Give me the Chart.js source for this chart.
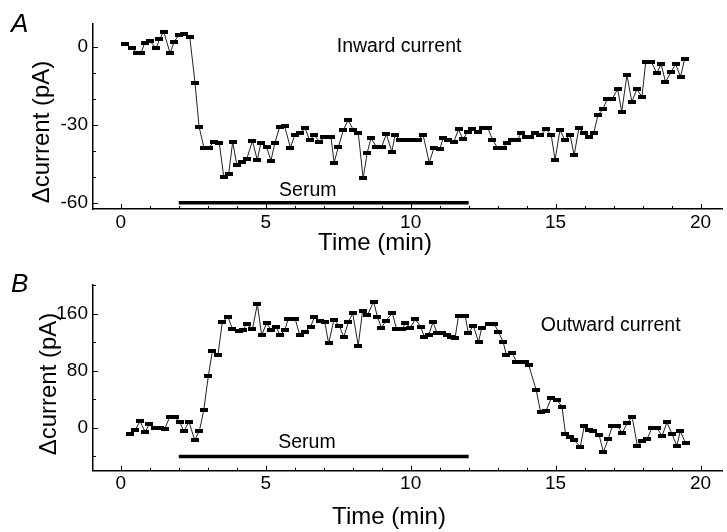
<!DOCTYPE html>
<html>
<head>
<meta charset="utf-8">
<script src="https://cdn.jsdelivr.net/npm/chart.js@4.4.1/dist/chart.umd.min.js"></script>
<style>
    html, body { margin: 0; padding: 0; background: #fff; }
    #wrap { position: relative; width: 727px; height: 532px; }
    .pane { position: absolute; left: 0; width: 727px; }
</style>
</head>
<body>
<div id="wrap">
    <div class="pane" style="top:0;height:260px"><canvas id="cA"></canvas></div>
    <div class="pane" style="top:260px;height:272px"><canvas id="cB"></canvas></div>
</div>
<script>
// A: inward current (pA) vs time (min)
const timeA = [0.15, 0.40, 0.55, 0.70, 0.82, 0.99, 1.22, 1.33, 1.48, 1.70, 1.84, 2.00, 2.18, 2.38, 2.56, 2.70,
    2.87, 3.04, 3.20, 3.40, 3.55, 3.72, 3.86, 4.00, 4.17, 4.35, 4.54, 4.71, 4.83, 5.03, 5.18, 5.31, 5.48, 5.65,
    5.85, 6.00, 6.17, 6.36, 6.51, 6.68, 6.85, 7.02, 7.25, 7.36, 7.50, 7.68, 7.84, 8.02, 8.19, 8.36, 8.50, 8.63,
    8.82, 9.00, 9.16, 9.35, 9.46, 9.64, 9.85, 10.05, 10.26, 10.43, 10.64, 10.80, 11.00, 11.12, 11.29, 11.49,
    11.65, 11.80, 11.97, 12.12, 12.31, 12.50, 12.66, 12.82, 12.99, 13.20, 13.33, 13.50, 13.68, 13.82, 13.98,
    14.13, 14.28, 14.47, 14.67, 14.85, 14.98, 15.15, 15.32, 15.50, 15.64, 15.80, 15.98, 16.14, 16.32, 16.46,
    16.63, 16.78, 16.95, 17.14, 17.28, 17.46, 17.63, 17.80, 17.98, 18.11, 18.30, 18.49, 18.64, 18.79, 18.99,
    19.14, 19.31, 19.45];
const currentA = [1.0, -0.6, -2.5, -2.5, 1.5, 2.3, -0.6, 2.8, 5.8, -2.5, 1.9, 4.5, 4.9, 3.6, -14, -30.8,
    -39, -39, -36.5, -37.2, -50, -49, -36.5, -45.5, -44.5, -43, -36.2, -43.6, -37, -38.7, -43.8, -37.2, -30.8, -30.5,
    -38.8, -34, -33.3, -31.4, -35.9, -34, -36.5, -34.9, -34.9, -44.6, -38.7, -32, -28.2, -32, -33, -50.6, -40.8, -35.2,
    -38.5, -38.5, -33.6, -40.4, -34, -35.9, -35.9, -35.9, -35.9, -34, -44.6, -39, -39.5, -35.2, -35.9, -36.5,
    -31.8, -35.6, -32.7, -31.8, -32.7, -31.4, -31.2, -35.7, -38.8, -38.8, -36.9, -35.9, -35.9, -33, -34.9,
    -34.7, -33, -34, -31.8, -34, -43.6, -32, -35.9, -34, -41.7, -31.4, -33, -34.9, -33, -26.3,
    -24.1, -20.1, -20.1, -16.3, -25, -10.9, -21.2, -16.4, -19.2, -5.8, -5.8, -10.2, -6.7, -13.5, -9.6,
    -6.7, -11.5, -4.8];

// B: outward current (pA) vs time (min)
const timeB = [0.32, 0.50, 0.66, 0.84, 0.98, 1.18, 1.35, 1.52, 1.68, 1.88, 2.04, 2.17, 2.35, 2.55, 2.71, 2.86,
    3.02, 3.16, 3.35, 3.50, 3.69, 3.85, 4.06, 4.20, 4.34, 4.54, 4.71, 4.86, 5.03, 5.18, 5.35, 5.49, 5.66, 5.77,
    6.02, 6.17, 6.36, 6.55, 6.68, 6.86, 7.03, 7.17, 7.35, 7.54, 7.69, 7.85, 8.00, 8.19, 8.34, 8.51, 8.72, 8.85,
    8.99, 9.14, 9.37, 9.51, 9.71, 9.82, 9.99, 10.16, 10.34, 10.47, 10.62, 10.77, 10.91, 11.08, 11.25, 11.39,
    11.53, 11.65, 11.88, 11.99, 12.16, 12.34, 12.45, 12.70, 12.88, 13.02, 13.19, 13.30, 13.50, 13.65, 13.79,
    13.93, 14.07, 14.33, 14.48, 14.67, 14.85, 15.05, 15.22, 15.34, 15.50, 15.64, 15.85, 15.99, 16.16, 16.29,
    16.50, 16.65, 16.82, 16.96, 17.13, 17.30, 17.47, 17.64, 17.82, 17.99, 18.16, 18.33, 18.50, 18.67, 18.84,
    19.01, 19.18, 19.30, 19.49];
const currentB = [-9.3, -3.2, 9.4, -5.6, 4.7, 0, -0.5, -1, 14.5, 14.5, 7.5, -4.6, 8.4, -17.3, -4.2, 24.5,
    72.8, 108, 102, 147.5, 155.5, 139, 136, 137, 145, 138.5, 173, 130, 146.5, 137, 141.8, 130, 137, 152,
    152, 130, 134.7, 141.8, 155, 149.7, 148.8, 118.5, 151, 143, 127, 148, 160.5, 115, 163.8, 158, 176.8, 155.8,
    140.3, 149.7, 160.5, 138.5, 138.5, 146.5, 140.3, 152, 141.8, 127.7, 130, 148, 132.5, 132.5, 130, 127.7,
    125.5, 156.8, 156.8, 132.5, 143, 120.7, 139.5, 146, 146, 134.7, 120.7, 102, 105, 92.6, 92.6,
    92.6, 88, 53, 22.5, 24, 41.3, 39, 29.5, -8, -12.6, -17.3, -26.7, 2.8, -3.2, -4.2,
    -10.2, -33.7, -15, 2.8, 2.8, -7, 6.2, 15.4, -25.3, -18.7, -15, 0, 0, -11.6, 7.6,
    -8, -25.3, -4.6, -21.9];

// serum application (min) and where its bar sits on each panel (pA)
const serumTime = [2, 12];
const serumLevelA = -60;
const serumLevelB = -40;

// tick labels
const xLabels = [0, 5, 10, 15, 20];
const yLabelsA = [-60, -30, 0];
const yLabelsB = [0, 80, 160];

const FONT = '"Liberation Sans", Arial, Helvetica, sans-serif';

// small flat black dash used as the marker
function dash(w, h) {
    const c = document.createElement('canvas');
    c.width = w; c.height = h;
    const g = c.getContext('2d');
    g.fillStyle = '#000';
    g.fillRect(0, 0, w, h);
    return c;
}
const marker = dash(8, 4);

// inward ticks, titles and notes
const deco = {
    id: 'deco',
    afterDraw(chart, args, o) {
        const ctx = chart.ctx, xs = chart.scales.x, ys = chart.scales.y, a = chart.chartArea;
        ctx.save();
        ctx.strokeStyle = '#000';
        ctx.lineWidth = 1;
        ctx.beginPath();
        xs.ticks.forEach(t => {
            const px = Math.round(xs.getPixelForValue(t.value)) + 0.5;
            const len = xLabels.includes(t.value) ? 5 : 3;
            ctx.moveTo(px, a.bottom);
            ctx.lineTo(px, a.bottom - len);
        });
        ys.ticks.forEach(t => {
            const py = Math.round(ys.getPixelForValue(t.value)) + 0.5;
            const len = o.yLabels.includes(t.value) ? 5 : 3;
            ctx.moveTo(a.left, py);
            ctx.lineTo(a.left + len, py);
        });
        ctx.stroke();

        ctx.fillStyle = '#000';
        // panel letter
        ctx.font = 'italic 26px ' + FONT;
        ctx.textAlign = 'left';
        ctx.textBaseline = 'alphabetic';
        ctx.fillText(o.letter, 11, 32);

        // x title
        ctx.font = '24px ' + FONT;
        ctx.textAlign = 'center';
        ctx.textBaseline = 'middle';
        ctx.fillText('Time (min)', o.xTitle[0], o.xTitle[1]);

        // y title
        ctx.save();
        ctx.translate(o.yTitle[0], o.yTitle[1]);
        ctx.rotate(-Math.PI / 2);
        ctx.fillText('\u0394current (pA)', 0, 0);
        ctx.restore();

        // notes placed in data units
        ctx.font = '19.5px ' + FONT;
        o.notes.forEach(n => {
            ctx.fillText(n.text, xs.getPixelForValue(n.x), ys.getPixelForValue(n.y));
        });
        ctx.restore();
    }
};

function panel(id, times, values, serumLevel, yMin, yMax, yStep, yLabels, xAxisH, topPad, o) {
    const pts = times.map((t, i) => ({ x: t, y: values[i] }));
    const serum = serumTime.map(t => ({ x: t, y: serumLevel }));
    return new Chart(document.getElementById(id), {
        type: 'line',
        data: {
            datasets: [
                { data: serum, borderColor: '#000', borderWidth: 3.5, pointRadius: 0, borderCapStyle: 'butt' },
                { data: pts, borderColor: '#222', borderWidth: 1, pointStyle: marker, pointRadius: 4,
                  pointBackgroundColor: '#000', tension: 0 }
            ]
        },
        options: {
            responsive: true, maintainAspectRatio: false, animation: false,
            layout: { padding: { top: topPad, left: 0, right: 0, bottom: 0 } },
            plugins: { legend: { display: false }, tooltip: { enabled: false }, deco: o },
            scales: {
                x: {
                    type: 'linear', min: -0.96, max: 20.74,
                    grid: { display: false, drawTicks: false },
                    border: { display: true, color: '#000', width: 1.5 },
                    ticks: {
                        stepSize: 1, includeBounds: false, autoSkip: false, maxRotation: 0, padding: 2,
                        color: '#000', font: { family: FONT, size: 19 },
                        callback: v => xLabels.includes(v) ? String(v) : ''
                    },
                    afterFit: s => { s.height = xAxisH; s.paddingLeft = 0; s.paddingRight = 0; }
                },
                y: {
                    min: yMin, max: yMax,
                    grid: { display: false, drawTicks: false },
                    border: { display: true, color: '#000', width: 1.5 },
                    ticks: {
                        stepSize: yStep, includeBounds: false, autoSkip: false, padding: 5,
                        color: '#000', font: { family: FONT, size: 19 },
                        callback: v => yLabels.includes(v) ? String(v) : ''
                    },
                    afterFit: s => { s.width = 93; s.paddingTop = 0; s.paddingBottom = 0; }
                }
            }
        },
        plugins: [deco]
    });
}

panel('cA', timeA, currentA, serumLevelA, -62.4, 8.73, 10, yLabelsA, 51, 24, {
    letter: 'A', yLabels: yLabelsA, xTitle: [375, 243], yTitle: [42, 132],
    notes: [{ text: 'Inward current', x: 9.6, y: 0 }, { text: 'Serum', x: 6.45, y: -55.5 }]
});
panel('cB', timeB, currentB, serumLevelB, -60, 200, 40, yLabelsB, 61.3, 25, {
    letter: 'B', yLabels: yLabelsB, xTitle: [389, 257], yTitle: [49, 124],
    notes: [{ text: 'Outward current', x: 16.9, y: 142.7 }, { text: 'Serum', x: 6.42, y: -20.8 }]
});
</script>
</body>
</html>
